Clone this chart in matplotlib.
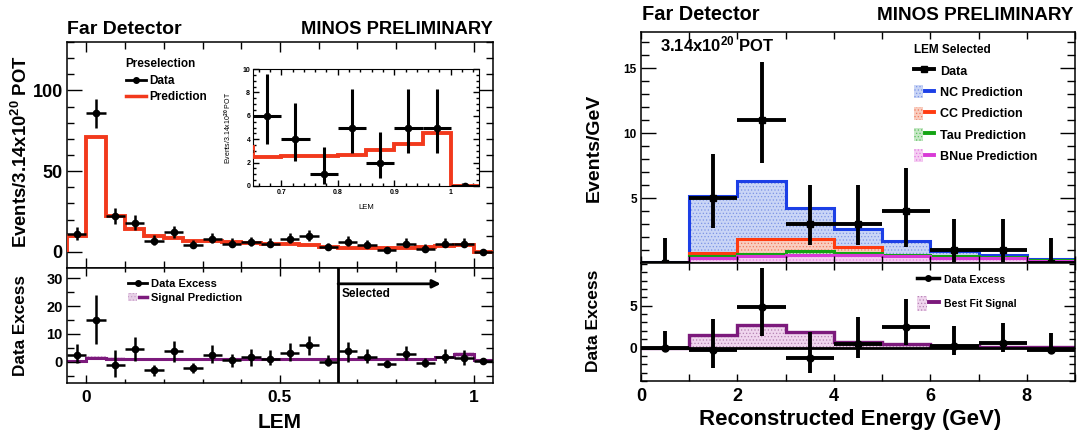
import numpy as np
import matplotlib
matplotlib.use('Agg')
import matplotlib.pyplot as plt
from matplotlib.lines import Line2D
from matplotlib.patches import Patch
from matplotlib.legend_handler import HandlerTuple
from matplotlib.ticker import MultipleLocator

plt.rcParams['font.family'] = ['Liberation Sans', 'DejaVu Sans']
plt.rcParams['font.weight'] = 'bold'
plt.rcParams['mathtext.fontset'] = 'custom'
plt.rcParams['mathtext.rm'] = 'Liberation Sans:bold'
plt.rcParams['mathtext.bf'] = 'Liberation Sans:bold'
plt.rcParams['mathtext.default'] = 'rm'
plt.rcParams['hatch.linewidth'] = 0.5

# ---- left panel: LEM, bins of 0.05 from -0.05 to 1.05
lem_edges = [-0.05, 0.0, 0.05, 0.1, 0.15, 0.2, 0.25, 0.3, 0.35, 0.4, 0.45, 0.5,
             0.55, 0.6, 0.65, 0.7, 0.75, 0.8, 0.85, 0.9, 0.95, 1.0, 1.05]
lem_data = [11, 86, 22, 18, 7, 12, 4, 8, 5, 6, 5, 8, 10, 3, 6, 4, 1, 5, 2, 5, 5, 0]
lem_data_lo = [7.5, 77, 17, 13.5, 4.1, 8.3, 2.1, 5.6, 2.8, 3.6, 2.8, 5.6, 6.8, 1.4,
               3.6, 2.1, 0.2, 2.8, 0.7, 2.8, 2.8, 0]
lem_data_hi = [15.5, 95, 27, 23, 10.4, 16, 7.1, 11.8, 8.3, 9.3, 8.3, 11.4, 13.5, 5.2,
               9.6, 7.1, 3.3, 8.3, 4.6, 8.3, 8.3, 0]
lem_pred = [9.6, 71.4, 22.5, 14.2, 9.6, 8.3, 7.0, 6.8, 5.9, 5.6, 4.9, 4.6, 4.3, 3.3,
            2.52, 2.55, 2.6, 2.69, 3.06, 3.63, 4.54, 0.0]

lem_excess = [2.4, 15, -1.2, 4.4, -2.9, 3.9, -2.4, 2.4, 0.6, 1.5, 0.9, 3.2, 5.9, 0.0,
              3.8, 1.8, -0.9, 2.6, -0.35, 1.5, 1.2, 0.35]
lem_excess_lo = [-0.6, 6.2, -5.5, 0.35, -5.3, 0.0, -4.1, -0.6, -1.8, -1.5, -1.2, 0.35,
                 2.4, -1.5, 0.0, -0.6, -2.0, 0.6, -1.8, -0.35, -1.2, 0.35]
lem_excess_hi = [6.5, 23.9, 4.1, 9.0, -1.2, 7.6, -0.6, 5.9, 2.9, 4.7, 4.1, 6.7, 9.4,
                 2.4, 7.0, 4.4, 0.6, 5.5, 1.2, 4.7, 4.1, 0.35]
lem_signal = [0.35, 1.4, 1.0, 0.9, 0.9, 0.85, 0.85, 0.8, 0.8, 0.8, 0.8, 0.8, 0.8, 0.8,
              0.8, 0.8, 0.8, 0.85, 0.9, 1.5, 2.6, 0.6]
lem_signal_err = [0.4, 0.6, 0.5, 0.5, 0.5, 0.5, 0.5, 0.5, 0.5, 0.5, 0.5, 0.5, 0.5, 0.5,
                  0.5, 0.5, 0.5, 0.5, 0.5, 0.6, 0.8, 0.4]

# ---- right panel: reconstructed energy, 1 GeV bins
e_edges = [0, 1, 2, 3, 4, 5, 6, 7, 8, 9]
e_data = [0, 5, 11, 3, 3, 4, 1, 1, 0]
e_data_lo = [0, 2.7, 7.7, 1.4, 1.4, 1.25, 0.1, 0.1, 0]
e_data_hi = [1.9, 8.4, 15.5, 6.0, 6.0, 7.3, 3.4, 3.4, 1.9]
e_nc = [0.05, 5.17, 6.32, 4.2, 2.62, 1.7, 0.9, 0.63, 0.33]
e_cc = [0.0, 0.79, 1.86, 1.86, 1.22, 0.55, 0.35, 0.4, 0.1]
e_tau = [0.0, 0.53, 0.71, 0.89, 0.79, 0.58, 0.55, 0.46, 0.2]
e_bnue = [0.0, 0.38, 0.51, 0.58, 0.58, 0.51, 0.41, 0.4, 0.15]

e_excess = [0, -0.24, 4.8, -1.2, 0.45, 2.5, 0.16, 0.5, -0.24]
e_excess_lo = [0, -2.5, 1.36, -3.0, -1.3, 0.3, -0.9, -0.5, -0.64]
e_excess_hi = [1.96, 3.4, 9.5, 1.9, 3.6, 5.8, 2.56, 2.96, 1.76]
e_signal = [0.0, 1.48, 2.68, 1.8, 0.68, 0.4, 0.15, 0.1, 0.05]

RED = '#f2391c'
PURPLE = '#7c1a7c'
W, H = 1079, 432


def box(x0, y0, x1, y1):
    return [x0 / W, 1 - y1 / H, (x1 - x0) / W, (y1 - y0) / H]


def root_ticks(ax, ymaj, ymin, xmaj, xmin):
    ax.tick_params(which='both', direction='in', top=True, right=True, width=1)
    ax.tick_params(axis='y', which='major', length=ymaj)
    ax.tick_params(axis='y', which='minor', length=ymin)
    ax.tick_params(axis='x', which='major', length=xmaj)
    ax.tick_params(axis='x', which='minor', length=xmin)
    for s in ax.spines.values():
        s.set_linewidth(1.1)


def centers(edges):
    e = np.asarray(edges, float)
    return (e[:-1] + e[1:]) / 2, (e[1:] - e[:-1]) / 2


def data_points(ax, edges, vals, lo, hi, lw, ms, marker='o'):
    x, xw = centers(edges)
    v = np.asarray(vals, float)
    yerr = [v - np.asarray(lo, float), np.asarray(hi, float) - v]
    ax.errorbar(x, v, xerr=xw, yerr=yerr, fmt=marker, color='k', ms=ms,
                elinewidth=lw, capsize=0, zorder=5)


def hatched(ax, vals, edges, face, dots, line, lw=2.0, baseline=0):
    ax.stairs(vals, edges, baseline=baseline, fill=True, facecolor=face,
              edgecolor=dots, hatch='.....', linewidth=0)
    ax.stairs(vals, edges, baseline=baseline, color=line, lw=lw)


fig = plt.figure(figsize=(W / 100, H / 100), dpi=100)

# ---------------- left top
ax1 = fig.add_axes(box(67, 42, 493, 268))
ax1.stairs(lem_pred, lem_edges, color=RED, lw=2.8, zorder=3)
data_points(ax1, lem_edges, lem_data, lem_data_lo, lem_data_hi, 1.8, 4.5)
ax1.set_xlim(-0.05, 1.05)
ax1.set_ylim(-10, 130)
ax1.yaxis.set_major_locator(MultipleLocator(50))
ax1.yaxis.set_minor_locator(MultipleLocator(10))
ax1.xaxis.set_major_locator(MultipleLocator(0.5))
ax1.xaxis.set_minor_locator(MultipleLocator(0.1))
ax1.tick_params(labelbottom=False, labelsize=13, pad=3)
root_ticks(ax1, 10.5, 5, 7, 5)
ax1.legend(handles=[Line2D([], [], color='k', lw=2, marker='o', ms=4),
                    Line2D([], [], color=RED, lw=2.5)],
           labels=['Data', 'Prediction'], title='Preselection',
           loc='upper left', bbox_to_anchor=(0.118, 0.965), frameon=False,
           fontsize=8.5, title_fontsize=8.5, handlelength=1.7,
           handletextpad=0.35, labelspacing=0.38, borderpad=0.2,
           alignment='left')

# inset
axin = fig.add_axes(box(253, 69, 479, 186))
axin.stairs(lem_pred, lem_edges, color=RED, lw=2.8, zorder=3)
data_points(axin, lem_edges, lem_data, lem_data_lo, lem_data_hi, 2.2, 4.5)
axin.set_xlim(0.65, 1.05)
axin.set_ylim(0, 10)
axin.set_xticks([0.7, 0.8, 0.9, 1.0], ['0.7', '0.8', '0.9', '1'])
axin.xaxis.set_minor_locator(MultipleLocator(0.02))
axin.yaxis.set_major_locator(MultipleLocator(2))
axin.yaxis.set_minor_locator(MultipleLocator(0.5))
axin.tick_params(labelsize=5, pad=2)
root_ticks(axin, 4, 2, 4, 2)
for s in axin.spines.values():
    s.set_linewidth(0.8)
axin.set_xlabel('LEM', fontsize=5.5, labelpad=6)
axin.set_ylabel('Events/3.14x10$^{20}$ POT', fontsize=5, labelpad=6)

# ---------------- left bottom
ax2 = fig.add_axes(box(67, 268, 493, 383))
sig = np.asarray(lem_signal)
sig_err = np.asarray(lem_signal_err)
ax2.stairs(sig + sig_err, lem_edges, baseline=sig - sig_err, fill=True,
           facecolor='#e6cfe6', edgecolor='#c9a0c9', hatch='.....', lw=0)
ax2.stairs(lem_signal, lem_edges, color=PURPLE, lw=2.2)
data_points(ax2, lem_edges, lem_excess, lem_excess_lo, lem_excess_hi, 1.8, 4.5)
ax2.axvline(0.65, color='k', lw=2, zorder=6)
ax2.annotate('', xy=(0.915, 28), xytext=(0.65, 28),
             arrowprops=dict(arrowstyle='-|>', color='k', lw=2, mutation_scale=12,
                             shrinkA=0, shrinkB=0))
ax2.text(0.66, 24.2, 'Selected', fontsize=8.5, va='center', ha='left')
ax2.set_xlim(-0.05, 1.05)
ax2.set_ylim(-7.7, 33.7)
ax2.yaxis.set_major_locator(MultipleLocator(10))
ax2.yaxis.set_minor_locator(MultipleLocator(5))
ax2.set_xticks([0, 0.5, 1], ['0', '0.5', '1'])
ax2.xaxis.set_minor_locator(MultipleLocator(0.1))
ax2.tick_params(axis='y', labelsize=10.5, pad=3)
ax2.tick_params(axis='x', labelsize=12.5, pad=5)
root_ticks(ax2, 9, 5, 6, 3)
ax2.legend(handles=[Line2D([], [], color='k', lw=2, marker='o', ms=4),
                    (Patch(facecolor='#e6cfe6', edgecolor='#c9a0c9', hatch='.....', lw=0),
                     Line2D([], [], color=PURPLE, lw=2.5))],
           labels=['Data Excess', 'Signal Prediction'],
           handler_map={tuple: HandlerTuple(ndivide=None)},
           loc='upper left', bbox_to_anchor=(0.125, 0.97), frameon=False,
           fontsize=8, handlelength=1.75, handletextpad=0.35, labelspacing=0.3,
           borderpad=0.2)

# ---------------- right top
ax3 = fig.add_axes(box(641, 32, 1075, 263))
hatched(ax3, e_nc, e_edges, '#c9d5f6', '#7d95e6', '#1c3fe6', lw=2.2)
hatched(ax3, e_cc, e_edges, '#f9cdbf', '#f07a5e', '#ff3b10', lw=2.2)
hatched(ax3, e_tau, e_edges, '#c6e8c6', '#5cbf5c', '#13a313', lw=2.2)
hatched(ax3, e_bnue, e_edges, '#f5cdf2', '#e27be0', '#d83ad6', lw=2.2)
data_points(ax3, e_edges, e_data, e_data_lo, e_data_hi, 2.8, 5, marker='s')
ax3.set_xlim(0, 9)
ax3.set_ylim(0, 17.8)
ax3.yaxis.set_minor_locator(MultipleLocator(1))
ax3.set_yticks([5, 10, 15])
ax3.xaxis.set_major_locator(MultipleLocator(2))
ax3.xaxis.set_minor_locator(MultipleLocator(1))
ax3.tick_params(labelbottom=False, labelsize=8.5, pad=3)
root_ticks(ax3, 10.5, 5.5, 5, 5)
ax3.text(0.044, 0.948, '3.14x10$^{20}$ POT', transform=ax3.transAxes,
         fontsize=12, va='center', ha='left')


def pred_handle(face, dots, line):
    return (Patch(facecolor=face, edgecolor=dots, hatch='.....', lw=0),
            Line2D([], [], color=line, lw=2.8))


ax3.legend(handles=[Line2D([], [], color='k', lw=2.8, marker='s', ms=5),
                    pred_handle('#c9d5f6', '#7d95e6', '#1c3fe6'),
                    pred_handle('#f9cdbf', '#f07a5e', '#ff3b10'),
                    pred_handle('#c6e8c6', '#5cbf5c', '#13a313'),
                    pred_handle('#f5cdf2', '#e27be0', '#d83ad6')],
           labels=['Data', 'NC Prediction', 'CC Prediction', 'Tau Prediction',
                   'BNue Prediction'],
           title='LEM Selected', alignment='left',
           handler_map={tuple: HandlerTuple(ndivide=None)},
           loc='upper left', bbox_to_anchor=(0.608, 0.985), frameon=False,
           fontsize=9, title_fontsize=8.5, handlelength=1.65, handleheight=1.2,
           handletextpad=0.45, labelspacing=0.62, borderpad=0.2)

# ---------------- right bottom
ax4 = fig.add_axes(box(641, 263, 1075, 381))
ax4.axhline(0, color='k', lw=2, zorder=2)
hatched(ax4, e_signal, e_edges, '#f0d6ee', '#b583b3', PURPLE, lw=2.4)
data_points(ax4, e_edges, e_excess, e_excess_lo, e_excess_hi, 2.8, 5)
ax4.set_xlim(0, 9)
ax4.set_ylim(-4, 10.1)
ax4.set_yticks([0, 5])
ax4.yaxis.set_minor_locator(MultipleLocator(1))
ax4.xaxis.set_major_locator(MultipleLocator(2))
ax4.xaxis.set_minor_locator(MultipleLocator(1))
ax4.tick_params(axis='y', labelsize=10, pad=3)
ax4.tick_params(axis='x', labelsize=13, pad=5)
root_ticks(ax4, 8, 4.5, 5, 5)
ax4.legend(handles=[Line2D([], [], color='k', lw=2.5, marker='o', ms=4),
                    (Patch(facecolor='#f0d6ee', edgecolor='#b583b3', hatch='.....', lw=0),
                     Line2D([], [], color=PURPLE, lw=2.8))],
           labels=['Data Excess', 'Best Fit Signal'],
           handler_map={tuple: HandlerTuple(ndivide=None)},
           loc='upper left', bbox_to_anchor=(0.62, 0.98), frameon=False,
           fontsize=7.5, handlelength=2.1, handleheight=1.8, handletextpad=0.5,
           labelspacing=0.85, borderpad=0.2)

# ---------------- titles and axis titles
def ftext(x, y, s, **kw):
    fig.text(x / W, 1 - y / H, s, **kw)


ftext(67, 30, 'Far Detector', fontsize=14, ha='left', va='center')
ftext(493, 30, 'MINOS PRELIMINARY', fontsize=13.2, ha='right', va='center')
ftext(642, 15, 'Far Detector', fontsize=14.4, ha='left', va='center')
ftext(1073, 15, 'MINOS PRELIMINARY', fontsize=13.6, ha='right', va='center')
ftext(21, 152, 'Events/3.14x10$^{20}$ POT', fontsize=13.3, rotation=90,
      ha='center', va='center')
ftext(21, 325, 'Data Excess', fontsize=12.3, rotation=90, ha='center', va='center')
ftext(594, 148, 'Events/GeV', fontsize=14, rotation=90, ha='center', va='center')
ftext(594, 321, 'Data Excess', fontsize=12.5, rotation=90, ha='center', va='center')
ftext(280, 422, 'LEM', fontsize=15, ha='center', va='center')
ftext(850, 420, 'Reconstructed Energy (GeV)', fontsize=16, ha='center', va='center')

fig.savefig('out.png', dpi=100)
